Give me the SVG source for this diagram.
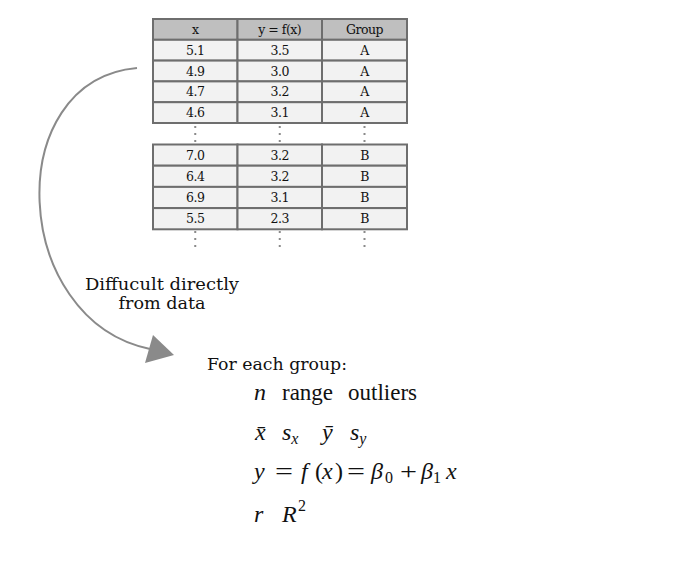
<svg xmlns="http://www.w3.org/2000/svg" width="676" height="580" viewBox="0 0 676 580">
<style>
.hd{fill:#bfbfbf;stroke:#6e6e6e;stroke-width:2}
.cell{fill:#f2f2f2;stroke:#6e6e6e;stroke-width:2}
.tt{font-family:"DejaVu Serif","Liberation Serif",serif;font-size:12.5px;fill:#111;text-anchor:middle;letter-spacing:-0.5px}
.dots{stroke:#8a8a8a;stroke-width:2;stroke-dasharray:2 5}
.lbl{font-family:"DejaVu Serif","Liberation Serif",serif;font-size:16px;fill:#111}
.m{font-family:"Liberation Serif","DejaVu Serif",serif;font-size:24px;fill:#111}
.up{font-size:23px}
.mi{font-style:italic}
.sub{font-size:16px}
.conn{fill:none;stroke:#8a8a8a;stroke-width:2}
.head{fill:#8a8a8a}
</style>
<rect width="676" height="580" fill="#ffffff"/>
<g id="table">
  <g id="tableA">
    <rect class="hd" x="153" y="19" width="84.5" height="20.8"/>
    <rect class="hd" x="237.5" y="19" width="84.5" height="20.8"/>
    <rect class="hd" x="322" y="19" width="85" height="20.8"/>
    <rect class="cell" x="153" y="39.8" width="84.5" height="20.8"/>
    <rect class="cell" x="237.5" y="39.8" width="84.5" height="20.8"/>
    <rect class="cell" x="322" y="39.8" width="85" height="20.8"/>
    <rect class="cell" x="153" y="60.6" width="84.5" height="20.8"/>
    <rect class="cell" x="237.5" y="60.6" width="84.5" height="20.8"/>
    <rect class="cell" x="322" y="60.6" width="85" height="20.8"/>
    <rect class="cell" x="153" y="81.4" width="84.5" height="20.8"/>
    <rect class="cell" x="237.5" y="81.4" width="84.5" height="20.8"/>
    <rect class="cell" x="322" y="81.4" width="85" height="20.8"/>
    <rect class="cell" x="153" y="102.2" width="84.5" height="20.8"/>
    <rect class="cell" x="237.5" y="102.2" width="84.5" height="20.8"/>
    <rect class="cell" x="322" y="102.2" width="85" height="20.8"/>
    <text class="tt" x="195.25" y="34">x</text>
    <text class="tt" x="279.75" y="34">y = f(x)</text>
    <text class="tt" x="364.5" y="34">Group</text>
    <text class="tt" x="195.25" y="54.8">5.1</text>
    <text class="tt" x="279.75" y="54.8">3.5</text>
    <text class="tt" x="364.5" y="54.8">A</text>
    <text class="tt" x="195.25" y="75.6">4.9</text>
    <text class="tt" x="279.75" y="75.6">3.0</text>
    <text class="tt" x="364.5" y="75.6">A</text>
    <text class="tt" x="195.25" y="96.4">4.7</text>
    <text class="tt" x="279.75" y="96.4">3.2</text>
    <text class="tt" x="364.5" y="96.4">A</text>
    <text class="tt" x="195.25" y="117.2">4.6</text>
    <text class="tt" x="279.75" y="117.2">3.1</text>
    <text class="tt" x="364.5" y="117.2">A</text>
  </g>
  <g id="gap-dots">
    <line class="dots" x1="195.25" y1="126" x2="195.25" y2="143"/>
    <line class="dots" x1="279.75" y1="126" x2="279.75" y2="143"/>
    <line class="dots" x1="364.5" y1="126" x2="364.5" y2="143"/>
  </g>
  <g id="tableB">
    <rect class="cell" x="153" y="144.5" width="84.5" height="21.2"/>
    <rect class="cell" x="237.5" y="144.5" width="84.5" height="21.2"/>
    <rect class="cell" x="322" y="144.5" width="85" height="21.2"/>
    <rect class="cell" x="153" y="165.7" width="84.5" height="21.2"/>
    <rect class="cell" x="237.5" y="165.7" width="84.5" height="21.2"/>
    <rect class="cell" x="322" y="165.7" width="85" height="21.2"/>
    <rect class="cell" x="153" y="186.9" width="84.5" height="21.2"/>
    <rect class="cell" x="237.5" y="186.9" width="84.5" height="21.2"/>
    <rect class="cell" x="322" y="186.9" width="85" height="21.2"/>
    <rect class="cell" x="153" y="208.1" width="84.5" height="21.2"/>
    <rect class="cell" x="237.5" y="208.1" width="84.5" height="21.2"/>
    <rect class="cell" x="322" y="208.1" width="85" height="21.2"/>
    <text class="tt" x="195.25" y="159.7">7.0</text>
    <text class="tt" x="279.75" y="159.7">3.2</text>
    <text class="tt" x="364.5" y="159.7">B</text>
    <text class="tt" x="195.25" y="180.9">6.4</text>
    <text class="tt" x="279.75" y="180.9">3.2</text>
    <text class="tt" x="364.5" y="180.9">B</text>
    <text class="tt" x="195.25" y="202.1">6.9</text>
    <text class="tt" x="279.75" y="202.1">3.1</text>
    <text class="tt" x="364.5" y="202.1">B</text>
    <text class="tt" x="195.25" y="223.3">5.5</text>
    <text class="tt" x="279.75" y="223.3">2.3</text>
    <text class="tt" x="364.5" y="223.3">B</text>
  </g>
  <g id="bottom-dots">
    <line class="dots" x1="195.25" y1="231" x2="195.25" y2="248"/>
    <line class="dots" x1="279.75" y1="231" x2="279.75" y2="248"/>
    <line class="dots" x1="364.5" y1="231" x2="364.5" y2="248"/>
  </g>
</g>
<g id="connectors">
  <path class="conn" d="M137,68 C0,80 10,320 150,349"/>
  <polygon class="head" points="153,335 174,355 145,363"/>
</g>
<g id="label">
  <text class="lbl" x="162" y="290" text-anchor="middle" textLength="154" lengthAdjust="spacingAndGlyphs">Diffucult directly</text>
  <text class="lbl" x="162" y="309" text-anchor="middle" textLength="87" lengthAdjust="spacingAndGlyphs">from data</text>
</g>
<g id="stats">
  <text class="lbl" x="207" y="370" font-size="16" textLength="140" lengthAdjust="spacingAndGlyphs">For each group:</text>
  <text class="m mi" x="254" y="400">n</text>
  <text class="m up" x="282" y="400">range</text>
  <text class="m up" x="348" y="400">outliers</text>
  <text class="m mi" x="255" y="440">x̄</text>
  <text class="m mi" x="282" y="440">s<tspan class="sub" dy="4">x</tspan></text>
  <text class="m mi" x="322" y="440">ȳ</text>
  <text class="m mi" x="350" y="440">s<tspan class="sub" dy="4">y</tspan></text>
  <text class="m mi" x="254" y="479">y</text>
  <text class="m" x="275" y="479" textLength="18" lengthAdjust="spacingAndGlyphs">=</text>
  <text class="m mi" x="301" y="479">f</text>
  <text class="m" x="315" y="479">(</text>
  <text class="m mi" x="322" y="479">x</text>
  <text class="m" x="335" y="479">)</text>
  <text class="m" x="347" y="479" textLength="18" lengthAdjust="spacingAndGlyphs">=</text>
  <text class="m mi" x="371" y="479">β</text>
  <text class="m sub" x="385" y="483">0</text>
  <text class="m" x="400" y="479" textLength="17" lengthAdjust="spacingAndGlyphs">+</text>
  <text class="m mi" x="421" y="479">β</text>
  <text class="m sub" x="433" y="483">1</text>
  <text class="m mi" x="446" y="479">x</text>
  <text class="m mi" x="254" y="522">r</text>
  <text class="m mi" x="282" y="522">R</text>
  <text class="m sub" x="298" y="511">2</text>
</g>
</svg>
